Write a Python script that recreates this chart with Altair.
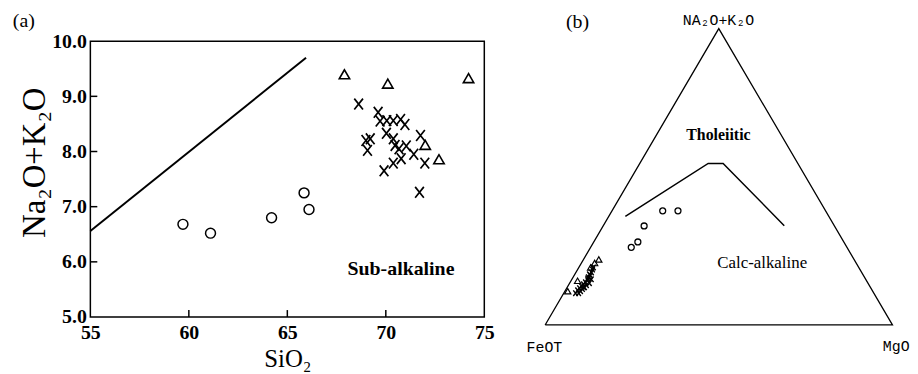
import math
import altair as alt
import pandas as pd

# ---------------- Panel (a): Na2O+K2O vs SiO2 ----------------
circle_sio2 = [59.7, 61.1, 64.2, 65.85, 66.1]
circle_alk = [6.68, 6.52, 6.80, 7.25, 6.95]
triangle_sio2 = [67.9, 70.1, 74.2, 72.0, 72.7]
triangle_alk = [9.40, 9.23, 9.33, 8.12, 7.86]
cross_sio2 = [68.62, 69.61, 69.71, 70.05, 70.38, 70.75, 70.97, 70.03, 68.99, 69.21, 69.07,
              70.38, 70.47, 70.67, 71.04, 71.42, 71.76, 71.98, 70.38, 69.91, 71.71, 70.78]
cross_alk = [8.86, 8.71, 8.55, 8.56, 8.56, 8.58, 8.49, 8.33, 8.20, 8.23, 8.02,
             8.23, 8.11, 8.05, 8.10, 7.95, 8.29, 7.79, 7.79, 7.65, 7.26, 7.87]
divide_sio2 = [55.0, 65.95]
divide_alk = [6.56, 9.70]
x_ticks = [55, 60, 65, 70, 75]
y_ticks = [5, 6, 7, 8, 9, 10]
x_inner_ticks = [60, 65, 70]
y_inner_ticks = [6, 7, 8, 9]

# ---------------- Panel (b): AFM ternary (percent) ----------------
# A = Na2O+K2O, M = MgO, F = FeOT = 100 - A - M
circle_A = [26.2, 28.0, 33.4, 38.5, 38.5]
circle_M = [11.7, 12.7, 11.8, 14.6, 19.0]
triangle_A = [11.4, 22.1, 20.9, 14.9, 19.4]
triangle_M = [0.8, 4.4, 3.8, 1.9, 3.4]
cross_A = [10.7, 11.7, 12.4, 13.1, 11.4, 13.7, 14.4, 12.7, 15.1, 16.1, 14.1,
           16.7, 17.7, 18.7, 13.4, 12.1, 10.7, 15.7, 17.1, 12.7, 15.4, 19.4]
cross_M = [3.4, 3.5, 3.7, 3.9, 4.5, 4.2, 4.4, 5.0, 4.7, 4.4, 5.7,
           4.7, 4.5, 4.3, 5.2, 4.7, 4.3, 4.4, 4.2, 4.7, 5.6, 4.2]
boundary_A = [36.6, 54.5, 54.5, 33.5]
boundary_M = [4.8, 19.7, 24.0, 52.1]
vertex_A = [0, 100, 0, 0]
vertex_M = [0, 0, 100, 0]

SERIF = "Liberation Serif"
MONO = "Liberation Mono"
CROSS = "M-0.8,-1L0.8,1M-0.8,1L0.8,-1"

# ---------- panel (a) ----------
WA, HA = 397, 278
xa = alt.Scale(domain=[55, 75], nice=False, zero=False)
ya = alt.Scale(domain=[5, 10], nice=False, zero=False)
ax_x = alt.Axis(values=x_ticks, format="d", grid=False, ticks=False, domain=False,
                labelFont=SERIF, labelFontSize=20, labelFontWeight="bold", labelColor="black",
                labelPadding=6, labelFlush=False, labelOverlap=False,
                title="SiO₂", titleFont=SERIF, titleFontSize=25, titleFontWeight="normal",
                titleColor="black", titleBaseline="alphabetic", titleY=50)
ax_y = alt.Axis(values=y_ticks, format=".1f", grid=False, ticks=False, domain=False,
                labelFont=SERIF, labelFontSize=20, labelFontWeight="bold", labelColor="black",
                labelPadding=4, labelFlush=False, labelOverlap=False,
                title="Na₂O+K₂O", titleFont=SERIF, titleFontSize=33, titleFontWeight="normal",
                titleColor="black", titleX=-56, titleY=122, titleAngle=270,
                titleAlign="center", titleBaseline="middle")

X = alt.X("x:Q", scale=xa, axis=ax_x)
Y = alt.Y("y:Q", scale=ya, axis=ax_y)

df_line = pd.DataFrame({"x": divide_sio2, "y": divide_alk})
df_circ = pd.DataFrame({"x": circle_sio2, "y": circle_alk})
df_tri = pd.DataFrame({"x": triangle_sio2, "y": triangle_alk})
df_cross = pd.DataFrame({"x": cross_sio2, "y": cross_alk})

line_a = alt.Chart(df_line).mark_line(color="black", strokeWidth=2).encode(x=X, y=Y)
circ_a = alt.Chart(df_circ).mark_point(shape="circle", filled=False, color="black",
                                       size=100, strokeWidth=1.5, opacity=1).encode(x=X, y=Y)
tri_a = alt.Chart(df_tri).mark_point(shape="triangle-up", filled=False, color="black",
                                     size=110, strokeWidth=1.6, opacity=1).encode(x=X, y=Y)
cross_a = alt.Chart(df_cross).mark_point(shape=CROSS, filled=False, color="black",
                                         size=120, strokeWidth=1.7, opacity=1).encode(x=X, y=Y)

tick_bottom = alt.Chart(pd.DataFrame({"x": x_inner_ticks})).mark_rule(
    color="black", strokeWidth=1.5).encode(
    x=alt.X("x:Q", scale=xa), y=alt.value(HA), y2=alt.value(HA - 7))
tick_left = alt.Chart(pd.DataFrame({"y": y_inner_ticks})).mark_rule(
    color="black", strokeWidth=1.5).encode(
    y=alt.Y("y:Q", scale=ya), x=alt.value(0), x2=alt.value(7))

lab_a = alt.Chart(pd.DataFrame({"x": [70.77], "y": [5.87], "t": ["Sub-alkaline"]})).mark_text(
    font=SERIF, fontSize=20, fontWeight="bold", color="black").encode(x=X, y=Y, text="t:N")
tag_a = alt.Chart(pd.DataFrame({"x": [51.62], "y": [10.36], "t": ["(a)"]})).mark_text(
    font=SERIF, fontSize=20, color="black").encode(x=X, y=Y, text="t:N")

panel_a = alt.layer(line_a, tick_bottom, tick_left, circ_a, tri_a, cross_a, lab_a, tag_a).properties(
    width=WA, height=HA, view=alt.ViewBackground(stroke="black", strokeWidth=1.5))

# ---------- panel (b) ----------
WB, HB = 394, 300
xb = alt.Scale(domain=[-11.8, 100.77], nice=False, zero=False)
yb = alt.Scale(domain=[-4.06, 82.92], nice=False, zero=False)
XB = alt.X("cx:Q", scale=xb, axis=None)
YB = alt.Y("cy:Q", scale=yb, axis=None)
S3 = math.sqrt(3) / 2


def tern(A, M):
    d = pd.DataFrame({"A": A, "M": M})
    d["cx"] = d["M"] + d["A"] / 2
    d["cy"] = d["A"] * S3
    d["o"] = range(len(d))
    return d


outline = alt.Chart(tern(vertex_A, vertex_M)).mark_line(color="black", strokeWidth=1.3).encode(
    x=XB, y=YB, order="o:Q")
boundary = alt.Chart(tern(boundary_A, boundary_M)).mark_line(color="black", strokeWidth=1.5).encode(
    x=XB, y=YB, order="o:Q")
circ_b = alt.Chart(tern(circle_A, circle_M)).mark_point(shape="circle", filled=False, color="black",
                                                      size=36, strokeWidth=1.3, opacity=1).encode(x=XB, y=YB)
tri_b = alt.Chart(tern(triangle_A, triangle_M)).mark_point(shape="triangle-up", filled=False, color="black",
                                                         size=40, strokeWidth=1.2, opacity=1).encode(x=XB, y=YB)
cross_b = alt.Chart(tern(cross_A, cross_M)).mark_point(shape=CROSS, filled=False, color="black",
                                                     size=32, strokeWidth=1.4, opacity=1).encode(x=XB, y=YB)

txt_b_serif = pd.DataFrame({"cx": [49.9], "cy": [55.4], "t": ["Tholeiitic"]})
txt_b_calc = pd.DataFrame({"cx": [62.5], "cy": [18.0], "t": ["Calc-alkaline"]})
txt_b_mono = pd.DataFrame({"cx": [49.9, -0.2, 101.1], "cy": [89.0, -6.4, -6.1],
                           "t": ["NA₂O+K₂O", "FeOT", "MgO"]})
txt_b_tag = pd.DataFrame({"cx": [9.34], "cy": [88.4], "t": ["(b)"]})

t1 = alt.Chart(txt_b_serif).mark_text(font=SERIF, fontSize=16, fontWeight="bold", color="black").encode(
    x=XB, y=YB, text="t:N")
t2 = alt.Chart(txt_b_calc).mark_text(font=SERIF, fontSize=17, color="black").encode(
    x=XB, y=YB, text="t:N")
t3 = alt.Chart(txt_b_mono).mark_text(font=MONO, fontSize=15, color="black").encode(
    x=XB, y=YB, text="t:N")
t4 = alt.Chart(txt_b_tag).mark_text(font=SERIF, fontSize=20, color="black").encode(
    x=XB, y=YB, text="t:N")

panel_b = alt.layer(outline, boundary, circ_b, tri_b, cross_b, t1, t2, t3, t4).properties(
    width=WB, height=HB)

chart = alt.hconcat(panel_a, panel_b, spacing=20, bounds="flush").configure_view(
    stroke=None).properties(padding={"left": 4, "top": 1, "right": 0, "bottom": 0},
                            background="white")

chart.save("out.html", embed_options={"renderer": "svg", "actions": False})
